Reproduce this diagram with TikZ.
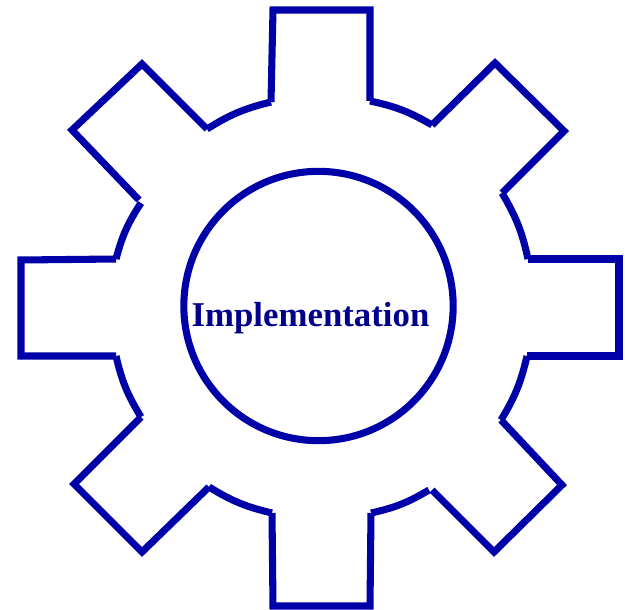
\documentclass[tikz,border=0pt]{standalone}
\usepackage{fontspec}
\setmainfont{Liberation Serif}
\definecolor{gearblue}{HTML}{0000A8}
\definecolor{labelblue}{HTML}{00008C}
\tikzset{
  gearline/.style={draw=gearblue,line width=5.3pt,line join=miter,miter limit=10},
  rimarc/.style={gearline,bend left=9.2},
  hub/.style={circle,draw=gearblue,line width=5.3pt,minimum size=202pt,inner sep=0pt},
  hublabel/.style={text=labelblue,font=\fontsize{26.1}{30}\selectfont\bfseries,inner sep=0pt,anchor=base}
}
\begin{document}
\begin{tikzpicture}[x=0.75pt,y=-0.75pt]
\useasboundingbox (0,0) rectangle (625,610);
% top tooth
\coordinate (t1) at (271,102); \coordinate (t2) at (273,10); \coordinate (t3) at (370,10); \coordinate (t4) at (370,101);
% upper right tooth
\coordinate (ur1) at (432,125); \coordinate (ur2) at (495,63); \coordinate (ur3) at (564,131); \coordinate (ur4) at (502,193);
% right tooth
\coordinate (r1) at (528,259); \coordinate (r2) at (619,259); \coordinate (r3) at (619,356); \coordinate (r4) at (527,356);
% lower right tooth
\coordinate (lr1) at (501,420); \coordinate (lr2) at (562,485); \coordinate (lr3) at (494,552); \coordinate (lr4) at (432,490);
% bottom tooth
\coordinate (b1) at (371,513); \coordinate (b2) at (370,606); \coordinate (b3) at (273,606); \coordinate (b4) at (272,513);
% lower left tooth
\coordinate (ll1) at (209,487); \coordinate (ll2) at (142,552); \coordinate (ll3) at (74,484); \coordinate (ll4) at (141,417);
% left tooth
\coordinate (l1) at (116,356); \coordinate (l2) at (21,356); \coordinate (l3) at (21,260); \coordinate (l4) at (116,259);
% upper left tooth
\coordinate (ul1) at (139,200); \coordinate (ul2) at (72,130); \coordinate (ul3) at (142,64); \coordinate (ul4) at (207,129);

\draw[gearline] (t1) -- (t2) -- (t3) -- (t4);
\draw[gearline] (ur1) -- (ur2) -- (ur3) -- (ur4);
\draw[gearline] (r1) -- (r2) -- (r3) -- (r4);
\draw[gearline] (lr1) -- (lr2) -- (lr3) -- (lr4);
\draw[gearline] (b1) -- (b2) -- (b3) -- (b4);
\draw[gearline] (ll1) -- (ll2) -- (ll3) -- (ll4);
\draw[gearline] (l1) -- (l2) -- (l3) -- (l4);
\draw[gearline] (ul1) -- (ul2) -- (ul3) -- (ul4);

\draw[rimarc] (t4) to (ur1);
\draw[rimarc] (ur4) to (r1);
\draw[rimarc] (r4) to (lr1);
\coordinate (a3) at (429,490);
\draw[rimarc] (a3) to (b1);
\draw[rimarc] (b4) to (ll1);
\draw[rimarc] (ll4) to (l1);
\coordinate (a4) at (141,203);
\draw[rimarc] (l4) to (a4);
\draw[rimarc] (ul4) to (t1);

\node[hub] (hubcircle) at (318.5,306) {};
\node[hublabel] (label) at (310.5,326) {Implementation};
\end{tikzpicture}
\end{document}
